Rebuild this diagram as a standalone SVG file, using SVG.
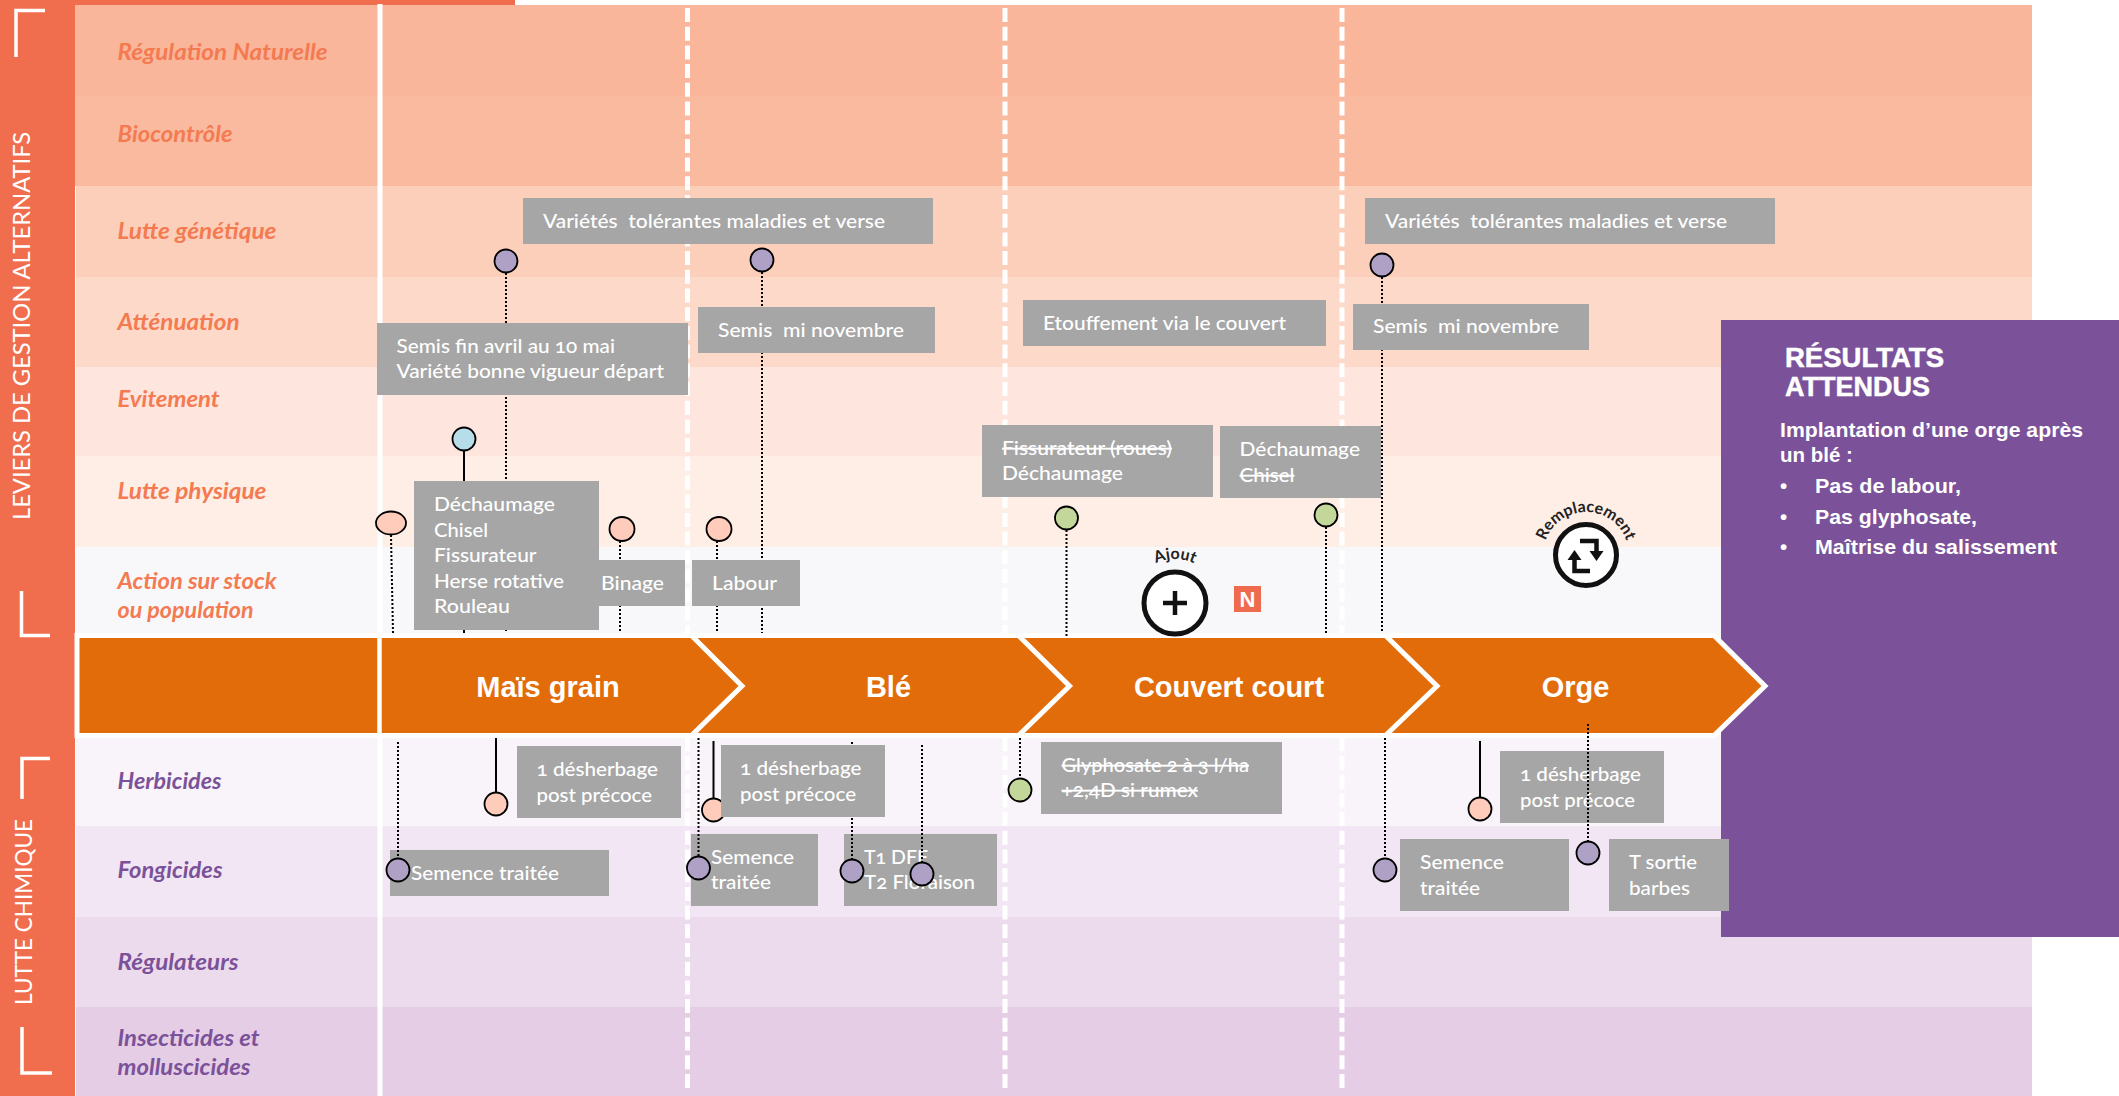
<svg xmlns="http://www.w3.org/2000/svg" width="2119" height="1096" viewBox="0 0 2119 1096">
<style>
text{white-space:pre}
.l{font:italic 700 22px Lato,"Noto Sans",sans-serif}
.o{fill:#F47A51}
.p{fill:#7B5299}
.b{fill:#A6A6A6}
.t{font:500 19.5px Lato,"Noto Sans",sans-serif;fill:#fff;font-variant-numeric:oldstyle-nums}
.s{text-decoration:line-through}
.c{font:700 29px "Liberation Sans",Arial,sans-serif;fill:#fff;text-anchor:middle}
.v{font:400 24px Lato,"Noto Sans",sans-serif;fill:#fff}
.h{font:700 27px "Liberation Sans",Arial,sans-serif;fill:#fff;stroke:#fff;stroke-width:.5}
.r{font:700 20.5px "Liberation Sans",Arial,sans-serif;fill:#fff}
.i{font:700 16px Lato,"Noto Sans",sans-serif;fill:#222;text-anchor:middle}
.dot{fill:none;stroke:#000;stroke-width:2;stroke-dasharray:2 2}
.sol{fill:none;stroke:#000;stroke-width:2}
.pin{stroke:#000;stroke-width:1.8}
.pu{fill:#AFA0C6}.pe{fill:#FFCCBB}.gr{fill:#C4D79B}.bl{fill:#B7DDE8}
.br{fill:none;stroke:#fff;stroke-width:3.5}
.dash{stroke:#fff;stroke-width:5;stroke-dasharray:14 4.7}
</style>
<defs>
<path id="arcA" d="M1131,603 A44,44 0 0 1 1219,603"/>
<path id="arcR" d="M1543,555 A43,43 0 0 1 1629,555"/>
</defs>
<rect width="2119" height="1096" fill="#fff"/>
<g id="rows">
<rect x="75" y="5" width="1957" height="91" fill="#F9B69B"/>
<rect x="75" y="96" width="1957" height="90" fill="#FABA9F"/>
<rect x="76" y="186" width="1956" height="91" fill="#FCCFBB"/>
<rect x="76" y="277" width="1956" height="90" fill="#FDD9CA"/>
<rect x="76" y="367" width="1956" height="89" fill="#FEE5DD"/>
<rect x="76" y="456" width="1956" height="91" fill="#FEEEE6"/>
<rect x="76" y="547" width="1956" height="91" fill="#F8F8FB"/>
<rect x="76" y="735" width="1956" height="91" fill="#F9F3FA"/>
<rect x="76" y="826" width="1956" height="91" fill="#F2E6F4"/>
<rect x="76" y="917" width="1956" height="90" fill="#ECDAED"/>
<rect x="76" y="1007" width="1956" height="89" fill="#E5CDE5"/>
</g>
<g id="band">
<rect x="0" y="0" width="75" height="1096" fill="#F06E4E"/>
<rect x="0" y="0" width="515" height="5" fill="#F06E4E"/>
<path class="br" d="M45,10.5H16V57"/>
<path class="br" d="M21.500,591V635.500H50"/>
<path class="br" d="M50,758.500H22V799"/>
<path class="br" d="M22,1027V1073H52"/>
<text class="v" transform="translate(30,520) rotate(-90)" textLength="388" lengthAdjust="spacingAndGlyphs">LEVIERS DE GESTION ALTERNATIFS</text>
<text class="v" transform="translate(32,1005) rotate(-90)" textLength="186" lengthAdjust="spacingAndGlyphs">LUTTE CHIMIQUE</text>
</g>
<g id="row-labels">
<text class="l o" x="117.500" y="59.500" textLength="210" lengthAdjust="spacingAndGlyphs">Régulation Naturelle</text>
<text class="l o" x="117.500" y="141.500" textLength="115" lengthAdjust="spacingAndGlyphs">Biocontrôle</text>
<text class="l o" x="117.500" y="239" textLength="159" lengthAdjust="spacingAndGlyphs">Lutte génétique</text>
<text class="l o" x="117.500" y="329.500" textLength="122" lengthAdjust="spacingAndGlyphs">Atténuation</text>
<text class="l o" x="117.500" y="406.500" textLength="102" lengthAdjust="spacingAndGlyphs">Evitement</text>
<text class="l o" x="117.500" y="498.500" textLength="149" lengthAdjust="spacingAndGlyphs">Lutte physique</text>
<text class="l o" x="117.500" y="589" textLength="159" lengthAdjust="spacingAndGlyphs">Action sur stock</text>
<text class="l o" x="117.500" y="618" textLength="136" lengthAdjust="spacingAndGlyphs">ou population</text>
<text class="l p" x="117.500" y="789" textLength="104" lengthAdjust="spacingAndGlyphs">Herbicides</text>
<text class="l p" x="117.500" y="877.500" textLength="105" lengthAdjust="spacingAndGlyphs">Fongicides</text>
<text class="l p" x="117.500" y="970" textLength="121" lengthAdjust="spacingAndGlyphs">Régulateurs</text>
<text class="l p" x="117.500" y="1046" textLength="142" lengthAdjust="spacingAndGlyphs">Insecticides et</text>
<text class="l p" x="117.500" y="1075" textLength="133" lengthAdjust="spacingAndGlyphs">molluscicides</text>
</g>
<g id="separators">
<rect x="377.500" y="4" width="5" height="1092" fill="#fff"/>
<path class="dash" d="M687.500,8V1090"/>
<path class="dash" d="M1005,8V1090"/>
<path class="dash" d="M1342,8V1090"/>
</g>
<g id="resultats">
<rect x="1721" y="320" width="398" height="617" fill="#7B5299"/>
<text class="h" x="1785" y="367" textLength="159" lengthAdjust="spacingAndGlyphs">RÉSULTATS</text>
<text class="h" x="1785" y="396" textLength="145" lengthAdjust="spacingAndGlyphs">ATTENDUS</text>
<text class="r" x="1780" y="437" textLength="303" lengthAdjust="spacingAndGlyphs">Implantation d’une orge après</text>
<text class="r" x="1780" y="462">un blé :</text>
<text class="r" x="1780" y="493">•</text>
<text class="r" x="1815" y="493" textLength="146" lengthAdjust="spacingAndGlyphs">Pas de labour,</text>
<text class="r" x="1780" y="524">•</text>
<text class="r" x="1815" y="524" textLength="162" lengthAdjust="spacingAndGlyphs">Pas glyphosate,</text>
<text class="r" x="1780" y="554">•</text>
<text class="r" x="1815" y="554" textLength="242" lengthAdjust="spacingAndGlyphs">Maîtrise du salissement</text>
</g>
<g id="timeline">
<polygon points="77,635.500 1714,635.500 1765,686 1714,735.500 77,735.500" fill="#E36C0A" stroke="#fff" stroke-width="5"/>
<path d="M379.500,635V736" fill="none" stroke="#fff" stroke-width="4.500"/>
<path d="M692,636L742,686L692,735M1019,636L1069.500,686L1019,735M1386,636L1437,686L1386,735" fill="none" stroke="#fff" stroke-width="5"/>
</g>
<g id="crop-mais"><text class="c" x="548" y="697">Maïs grain</text></g>
<g id="crop-ble"><text class="c" x="888.500" y="697">Blé</text></g>
<g id="crop-couvert"><text class="c" x="1229" y="697">Couvert court</text></g>
<g id="crop-orge"><text class="c" x="1575.500" y="697">Orge</text></g>
<g id="semence-mais"><rect class="b" x="390" y="850" width="219" height="46"/><text class="t" x="411" y="880" textLength="148" lengthAdjust="spacingAndGlyphs">Semence traitée</text></g>
<g id="semence-ble"><rect class="b" x="691" y="834" width="127" height="72"/><text class="t" x="711" y="864" textLength="83" lengthAdjust="spacingAndGlyphs">Semence</text><text class="t" x="711" y="889" textLength="60" lengthAdjust="spacingAndGlyphs">traitée</text></g>
<g id="t1-t2"><rect class="b" x="844" y="834" width="153" height="72"/><text class="t" x="864" y="864" textLength="64" lengthAdjust="spacingAndGlyphs">T1 DFF</text><text class="t" x="864" y="889" textLength="111" lengthAdjust="spacingAndGlyphs">T2 Floraison</text></g>
<g id="desherbage-orge"><rect class="b" x="1500" y="751" width="164" height="72"/><text class="t" x="1520" y="781" textLength="121" lengthAdjust="spacingAndGlyphs">1 désherbage</text><text class="t" x="1520" y="807" textLength="115" lengthAdjust="spacingAndGlyphs">post précoce</text></g>
<g id="connectors">
<path class="dot" d="M506,273V633"/>
<path class="sol" d="M464,450V633"/>
<path class="dot" d="M762,272V633"/>
<path class="dot" d="M1382,277V633"/>
<path class="dot" d="M391,535L393,633"/>
<path class="dot" d="M620,541V633"/>
<path class="dot" d="M717,541V633"/>
<path class="dot" d="M1066.500,530V636"/>
<path class="dot" d="M1326,527V633"/>
<path class="dot" d="M398,742V858"/>
<path class="sol" d="M496,738V792"/>
<path class="dot" d="M698.500,738V856"/>
<path class="sol" d="M713.500,741V798"/>
<path class="dot" d="M852,742V859"/>
<path class="dot" d="M922,745V862"/>
<path class="dot" d="M1020,738V778"/>
<path class="dot" d="M1385,738V858"/>
<path class="sol" d="M1480,741V797"/>
<path class="dot" d="M1588,724V841"/>
</g>
<g id="pins">
<circle class="pin pu" cx="506" cy="261" r="11.500"/>
<circle class="pin pu" cx="762" cy="260" r="11.500"/>
<circle class="pin pu" cx="1382" cy="265" r="11.500"/>
<circle class="pin bl" cx="464" cy="439" r="11.500"/>
<ellipse class="pin pe" cx="391" cy="523" rx="15" ry="11.500"/>
<ellipse class="pin pe" cx="622" cy="529" rx="12.500" ry="12"/>
<ellipse class="pin pe" cx="719" cy="529" rx="12.500" ry="12"/>
<circle class="pin gr" cx="1066.500" cy="518" r="11.500"/>
<circle class="pin gr" cx="1326" cy="515" r="11.500"/>
<circle class="pin pu" cx="398" cy="870" r="11.500"/>
<circle class="pin pe" cx="496" cy="804" r="11.500"/>
<circle class="pin pu" cx="698.500" cy="868" r="11.500"/>
<circle class="pin pe" cx="713.500" cy="810" r="11.500"/>
<circle class="pin pu" cx="852" cy="871" r="11.500"/>
<circle class="pin pu" cx="922" cy="874" r="11.500"/>
<circle class="pin gr" cx="1020" cy="790" r="11.500"/>
<circle class="pin pu" cx="1385" cy="870" r="11.500"/>
<circle class="pin pe" cx="1480" cy="809" r="11.500"/>
<circle class="pin pu" cx="1588" cy="853" r="11.500"/>
</g>
<g id="varietes-1"><rect class="b" x="523" y="198" width="410" height="46"/><text class="t" x="543" y="228" textLength="342" lengthAdjust="spacingAndGlyphs">Variétés  tolérantes maladies et verse</text></g>
<g id="varietes-2"><rect class="b" x="1365" y="198" width="410" height="46"/><text class="t" x="1385" y="228" textLength="342" lengthAdjust="spacingAndGlyphs">Variétés  tolérantes maladies et verse</text></g>
<g id="semis-mais"><rect class="b" x="377" y="323" width="311" height="72"/><text class="t" x="396.500" y="353" textLength="218.500" lengthAdjust="spacingAndGlyphs">Semis fin avril au 10 mai</text><text class="t" x="396.500" y="378" textLength="267.500" lengthAdjust="spacingAndGlyphs">Variété bonne vigueur départ</text></g>
<g id="semis-ble"><rect class="b" x="698" y="307" width="237" height="46"/><text class="t" x="718" y="337" textLength="186" lengthAdjust="spacingAndGlyphs">Semis  mi novembre</text></g>
<g id="etouffement"><rect class="b" x="1023" y="300" width="303" height="46"/><text class="t" x="1043" y="330" textLength="243" lengthAdjust="spacingAndGlyphs">Etouffement via le couvert</text></g>
<g id="semis-orge"><rect class="b" x="1353" y="304" width="236" height="46"/><text class="t" x="1373" y="333" textLength="186" lengthAdjust="spacingAndGlyphs">Semis  mi novembre</text></g>
<g id="travail-sol"><rect class="b" x="414" y="481" width="185" height="149"/><text class="t" x="434" y="511" textLength="121" lengthAdjust="spacingAndGlyphs">Déchaumage</text><text class="t" x="434" y="537" textLength="54" lengthAdjust="spacingAndGlyphs">Chisel</text><text class="t" x="434" y="562" textLength="102.500" lengthAdjust="spacingAndGlyphs">Fissurateur</text><text class="t" x="434" y="588" textLength="130" lengthAdjust="spacingAndGlyphs">Herse rotative</text><text class="t" x="434" y="613" textLength="76" lengthAdjust="spacingAndGlyphs">Rouleau</text></g>
<g id="binage"><rect class="b" x="599" y="560" width="86" height="46"/><text class="t" x="601" y="590" textLength="63" lengthAdjust="spacingAndGlyphs">Binage</text></g>
<g id="labour"><rect class="b" x="692" y="560" width="108" height="46"/><text class="t" x="712" y="590" textLength="65" lengthAdjust="spacingAndGlyphs">Labour</text></g>
<g id="fissurateur"><rect class="b" x="982" y="425" width="231" height="72"/><text class="t s" x="1002" y="455" textLength="170" lengthAdjust="spacingAndGlyphs">Fissurateur (roues)</text><text class="t" x="1002" y="480" textLength="121" lengthAdjust="spacingAndGlyphs">Déchaumage</text></g>
<g id="dechaumage"><rect class="b" x="1220" y="426" width="161" height="72"/><text class="t" x="1239.500" y="456" textLength="120.500" lengthAdjust="spacingAndGlyphs">Déchaumage</text><text class="t s" x="1239.500" y="482" textLength="55" lengthAdjust="spacingAndGlyphs">Chisel</text></g>
<g id="desherbage-mais"><rect class="b" x="517" y="746" width="164" height="72"/><text class="t" x="536.500" y="776" textLength="121.500" lengthAdjust="spacingAndGlyphs">1 désherbage</text><text class="t" x="536.500" y="802" textLength="115.500" lengthAdjust="spacingAndGlyphs">post précoce</text></g>
<g id="desherbage-ble"><rect class="b" x="721" y="745" width="164" height="72"/><text class="t" x="740" y="775" textLength="121.500" lengthAdjust="spacingAndGlyphs">1 désherbage</text><text class="t" x="740" y="801" textLength="116" lengthAdjust="spacingAndGlyphs">post précoce</text></g>
<g id="glyphosate"><rect class="b" x="1041" y="742" width="241" height="72"/><text class="t s" x="1061.500" y="772" textLength="187.500" lengthAdjust="spacingAndGlyphs">Glyphosate 2 à 3 l/ha</text><text class="t s" x="1061.500" y="797" textLength="136.500" lengthAdjust="spacingAndGlyphs">+2,4D si rumex</text></g>
<g id="semence-orge"><rect class="b" x="1400" y="839" width="169" height="72"/><text class="t" x="1420" y="869" textLength="84" lengthAdjust="spacingAndGlyphs">Semence</text><text class="t" x="1420" y="895" textLength="60" lengthAdjust="spacingAndGlyphs">traitée</text></g>
<g id="t-sortie"><rect class="b" x="1609" y="839" width="120" height="72"/><text class="t" x="1629" y="869" textLength="68" lengthAdjust="spacingAndGlyphs">T sortie</text><text class="t" x="1629" y="895" textLength="61" lengthAdjust="spacingAndGlyphs">barbes</text></g>
<g id="ajout">
<circle cx="1175" cy="603" r="31" fill="#fff" stroke="#111" stroke-width="5"/>
<path d="M1163,603H1187M1175,591V615" fill="none" stroke="#111" stroke-width="4.500"/>
<text class="i"><textPath href="#arcA" startOffset="50%">Ajout</textPath></text>
</g>
<g id="nouveau">
<rect x="1234" y="586" width="27" height="26" fill="#EE6C4D"/>
<text x="1247.500" y="607" font-family="'Liberation Sans',Arial,sans-serif" font-weight="700" font-size="22" fill="#fff" text-anchor="middle">N</text>
</g>
<g id="remplacement">
<circle cx="1586" cy="555" r="30.500" fill="#fff" stroke="#111" stroke-width="5"/>
<path d="M1580,541H1596.500V553M1590,571H1574.500V560" fill="none" stroke="#111" stroke-width="4.500"/>
<path d="M1589.500,551H1603.500L1596.500,561ZM1567.500,560H1581.500L1574.500,550Z" fill="#111"/>
<text class="i"><textPath href="#arcR" startOffset="50%">Remplacement</textPath></text>
</g>
</svg>
